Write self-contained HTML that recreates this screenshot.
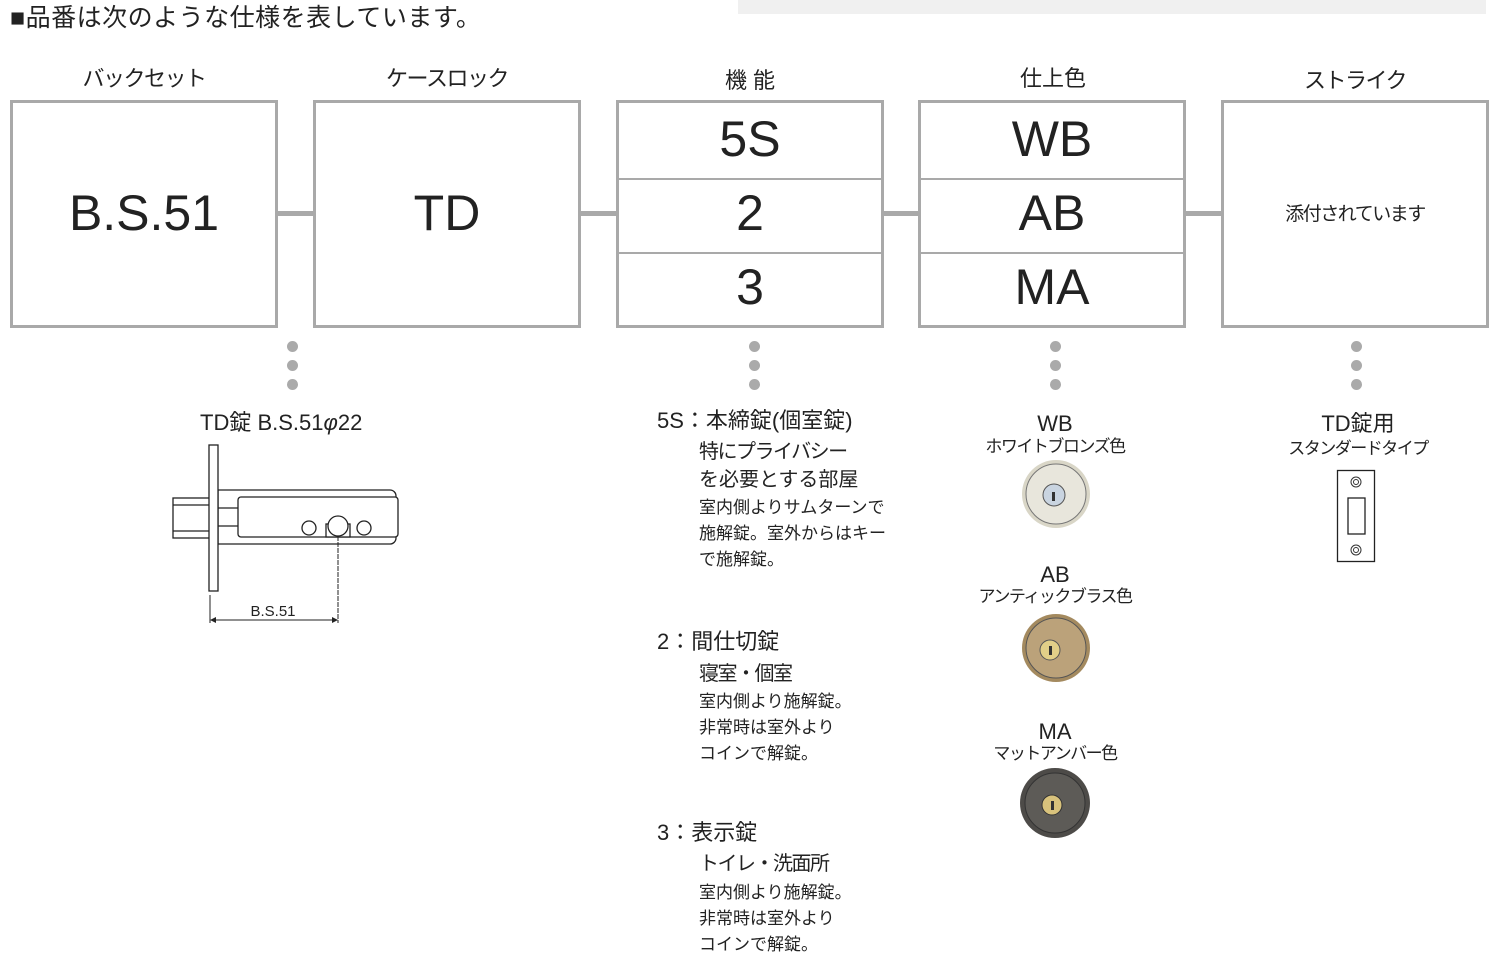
<!DOCTYPE html>
<html><head><meta charset="utf-8"><style>
body{margin:0;width:1500px;height:968px;background:#fff;position:relative;overflow:hidden;font-family:"Liberation Sans","Noto Sans CJK JP",sans-serif;color:#222}
.a{position:absolute;line-height:1;white-space:nowrap}
.c{transform:translateX(-50%)}
.box{position:absolute;top:100px;width:262px;height:222px;border:3px solid #a9a9a9;background:#fff}
.big{position:absolute;left:0;right:0;text-align:center;font-size:50px;line-height:1;color:#222}
.div{position:absolute;left:0;right:0;height:2px;background:#a9a9a9}
.con{position:absolute;top:211px;height:5px;width:36px;background:#a9a9a9}
.dot{position:absolute;width:11px;height:11px;border-radius:50%;background:#aaa}
.t22{font-size:22px}.t17{font-size:17px}
.ks{letter-spacing:-1.5px}
</style></head><body>
<div style="position:absolute;left:738px;top:0;width:748px;height:14px;background:#f0f0f0"></div>
<div class="a" style="left:10px;top:6px;font-size:25px;letter-spacing:0.5px">■品番は次のような仕様を表しています。</div>

<div class="a t22 c ks" style="left:144px;top:68px">バックセット</div>
<div class="a t22 c ks" style="left:447px;top:68px">ケースロック</div>
<div class="a t22 c" style="left:750px;top:70px">機 能</div>
<div class="a t22 c" style="left:1053px;top:68px">仕上色</div>
<div class="a t22 c ks" style="left:1355px;top:70px">ストライク</div>

<div class="con" style="left:278px"></div>
<div class="con" style="left:581px"></div>
<div class="con" style="left:884px"></div>
<div class="con" style="left:1186px"></div>

<div class="box" style="left:10px"><div class="big" style="top:85px">B.S.51</div></div>
<div class="box" style="left:313px"><div class="big" style="top:85px">TD</div></div>
<div class="box" style="left:616px">
<div class="big" style="top:11px">5S</div><div class="div" style="top:75px"></div>
<div class="big" style="top:85px">2</div><div class="div" style="top:149px"></div>
<div class="big" style="top:159px">3</div></div>
<div class="box" style="left:918px">
<div class="big" style="top:11px">WB</div><div class="div" style="top:75px"></div>
<div class="big" style="top:85px">AB</div><div class="div" style="top:149px"></div>
<div class="big" style="top:159px">MA</div></div>
<div class="box" style="left:1221px"><div class="a ks" style="left:0;right:0;text-align:center;top:102px;font-size:19px">添付されています</div></div>

<div class="dot" style="left:287px;top:341px"></div><div class="dot" style="left:287px;top:360px"></div><div class="dot" style="left:287px;top:379px"></div>
<div class="dot" style="left:749px;top:341px"></div><div class="dot" style="left:749px;top:360px"></div><div class="dot" style="left:749px;top:379px"></div>
<div class="dot" style="left:1050px;top:341px"></div><div class="dot" style="left:1050px;top:360px"></div><div class="dot" style="left:1050px;top:379px"></div>
<div class="dot" style="left:1351px;top:341px"></div><div class="dot" style="left:1351px;top:360px"></div><div class="dot" style="left:1351px;top:379px"></div>

<div class="a t22" style="left:200px;top:412px">TD錠 B.S.51<i>φ</i>22</div>
<svg style="position:absolute;left:160px;top:440px" width="260" height="200">
<g fill="#fff" stroke="#222" stroke-width="1.3">
<rect x="13" y="58" width="38" height="40"/>
<line x1="13" y1="65" x2="51" y2="65"/><line x1="13" y1="91" x2="51" y2="91"/>
<path d="M58 50 H230 a6 6 0 0 1 6 6 V98 a6 6 0 0 1 -6 6 H58 Z"/>
<rect x="78" y="57" width="160" height="40" rx="3"/>
<line x1="58" y1="68" x2="78" y2="68"/><line x1="58" y1="86" x2="78" y2="86"/>
<rect x="49" y="5" width="9" height="146"/>
<circle cx="149" cy="88" r="7"/><circle cx="204" cy="88" r="7"/>
<rect x="166" y="84" width="24" height="13"/><circle cx="178" cy="86" r="10"/>
</g>
<line x1="178" y1="96" x2="178" y2="183" stroke="#222" stroke-width="1" stroke-dasharray="5 1"/>
<line x1="50" y1="155" x2="50" y2="183" stroke="#222" stroke-width="1"/>
<line x1="52" y1="180" x2="176" y2="180" stroke="#222" stroke-width="1"/>
<path d="M50 180 l6 -3 v6z M178 180 l-6 -3 v6z" fill="#222"/>
<text x="113" y="176" font-size="15" text-anchor="middle" fill="#222" font-family="Liberation Sans">B.S.51</text>
</svg>

<div class="a t22" style="left:657px;top:410px">5S：本締錠(個室錠)</div>
<div class="a ks" style="left:699px;top:442px;font-size:20px">特にプライバシー</div>
<div class="a" style="left:699px;top:470px;font-size:20px">を必要とする部屋</div>
<div class="a t17" style="left:699px;top:499px">室内側よりサムターンで</div>
<div class="a t17" style="left:699px;top:525px">施解錠。室外からはキー</div>
<div class="a t17" style="left:699px;top:551px">で施解錠。</div>

<div class="a t22" style="left:657px;top:631px">2：間仕切錠</div>
<div class="a ks" style="left:699px;top:664px;font-size:20px">寝室・個室</div>
<div class="a t17" style="left:699px;top:693px">室内側より施解錠。</div>
<div class="a t17" style="left:699px;top:719px">非常時は室外より</div>
<div class="a t17" style="left:699px;top:745px">コインで解錠。</div>

<div class="a t22" style="left:657px;top:822px">3：表示錠</div>
<div class="a ks" style="left:699px;top:854px;font-size:20px">トイレ・洗面所</div>
<div class="a t17" style="left:699px;top:884px">室内側より施解錠。</div>
<div class="a t17" style="left:699px;top:910px">非常時は室外より</div>
<div class="a t17" style="left:699px;top:936px">コインで解錠。</div>

<div class="a t22 c" style="left:1055px;top:413px">WB</div>
<div class="a t17 c ks" style="left:1055px;top:438px">ホワイトブロンズ色</div>
<svg style="position:absolute;left:1020px;top:459px" width="72" height="72"><circle cx="36" cy="35" r="34" fill="#d9d6c7"/><circle cx="36" cy="35" r="30" fill="#e8e6dc" stroke="#777" stroke-width="1"/><circle cx="34" cy="36" r="11" fill="#c9d4e0" stroke="#555"/><rect x="32" y="33" width="3" height="9" fill="#333"/></svg>

<div class="a t22 c" style="left:1055px;top:564px">AB</div>
<div class="a t17 c ks" style="left:1055px;top:588px">アンティックブラス色</div>
<svg style="position:absolute;left:1020px;top:613px" width="72" height="72"><circle cx="36" cy="35" r="34" fill="#a48a5f"/><circle cx="36" cy="35" r="30" fill="#bba27a" stroke="#555" stroke-width="1"/><circle cx="30" cy="37" r="10" fill="#e2cf88" stroke="#555"/><rect x="29" y="33" width="3" height="9" fill="#333"/></svg>

<div class="a t22 c" style="left:1055px;top:721px">MA</div>
<div class="a t17 c ks" style="left:1055px;top:745px">マットアンバー色</div>
<svg style="position:absolute;left:1018px;top:767px" width="74" height="74"><circle cx="37" cy="36" r="35" fill="#4d4b48"/><circle cx="37" cy="36" r="30" fill="#5d5b57" stroke="#333" stroke-width="1"/><circle cx="34" cy="38" r="10" fill="#d8c27c" stroke="#333"/><rect x="33" y="34" width="3" height="9" fill="#333"/></svg>

<div class="a t22 c" style="left:1358px;top:413px">TD錠用</div>
<div class="a t17 c ks" style="left:1358px;top:440px">スタンダードタイプ</div>
<svg style="position:absolute;left:1336px;top:469px" width="42" height="96"><rect x="1.5" y="1.5" width="37" height="91" fill="#fff" stroke="#222" stroke-width="1.3"/><circle cx="20" cy="13" r="5" fill="#fff" stroke="#333"/><circle cx="20" cy="13" r="2.5" fill="none" stroke="#333"/><rect x="12" y="29" width="17" height="36" fill="#fff" stroke="#222" stroke-width="1.3"/><circle cx="20" cy="81" r="5" fill="#fff" stroke="#333"/><circle cx="20" cy="81" r="2.5" fill="none" stroke="#333"/></svg>
</body></html>
